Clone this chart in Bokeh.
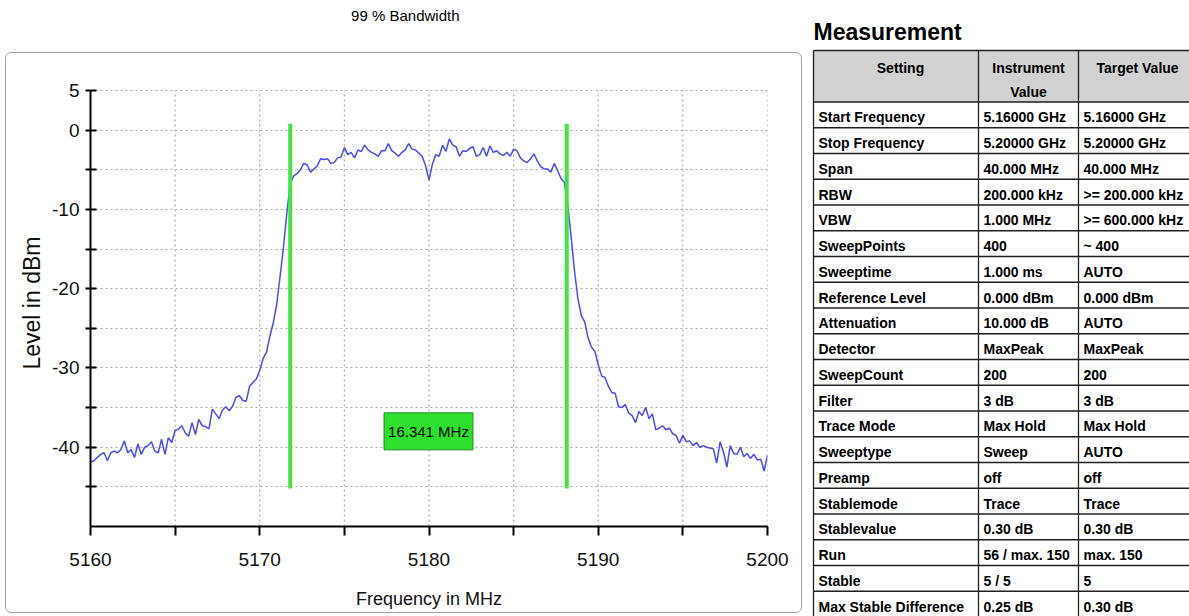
import numpy as np
from bokeh.plotting import figure
from bokeh.models import Range1d, FixedTicker, Label, Title, InlineStyleSheet
from bokeh.layouts import row
from bokeh.core.properties import value
from bokeh.embed import file_html
from bokeh.resources import INLINE

# ---------------- data ----------------
start_mhz = 5160.0
stop_mhz = 5200.0
level_dbm = [
    -41.9, -41.7, -41.3, -40.9, -40.7, -41.7, -40.7, -40.5, -40.7, -40.3,
    -39.2, -40.7, -40.3, -41.3, -39.6, -40.9, -40.0, -39.8, -39.3, -40.5,
    -40.7, -39.0, -40.9, -38.8, -39.4, -37.9, -37.7, -37.3, -38.2, -38.6,
    -36.9, -38.4, -36.5, -37.3, -37.4, -37.7, -35.2, -35.8, -36.4, -35.3,
    -34.9, -35.4, -34.8, -33.7, -33.5, -34.1, -34.2, -32.3, -31.8, -31.4,
    -30.3, -28.8, -28.0, -26.0, -24.3, -22.0, -18.5, -14.8, -10.5, -6.8,
    -5.8, -5.5, -5.0, -4.2, -4.4, -5.3, -4.9, -4.5, -3.6, -3.7,
    -3.6, -4.2, -4.1, -3.5, -3.4, -2.2, -3.1, -2.8, -3.5, -2.5,
    -2.7, -1.9, -2.5, -2.8, -3.0, -3.3, -2.6, -2.6, -1.7, -2.6,
    -2.9, -3.3, -2.8, -2.5, -1.7, -2.4, -2.5, -2.9, -3.3, -4.5,
    -6.3, -4.3, -3.1, -3.3, -1.9, -2.7, -1.1, -1.9, -2.1, -3.3,
    -2.6, -2.7, -2.3, -2.1, -3.3, -3.1, -2.2, -3.3, -2.0, -2.8,
    -2.6, -3.0, -3.2, -2.8, -3.3, -2.4, -2.6, -3.5, -3.9, -4.1,
    -3.6, -3.0, -3.9, -4.6, -4.9, -4.9, -5.3, -4.2, -5.1, -6.1,
    -6.6, -9.5, -13.5, -17.8, -21.3, -23.4, -24.2, -26.2, -27.4, -27.9,
    -29.6, -31.0, -31.2, -32.3, -33.1, -33.2, -34.9, -35.0, -34.6, -35.7,
    -36.0, -36.9, -35.5, -36.0, -35.0, -36.4, -35.8, -37.8, -37.6, -37.3,
    -37.8, -37.6, -38.3, -38.5, -39.5, -38.5, -39.3, -39.2, -39.8, -39.4,
    -40.0, -39.8, -40.0, -40.1, -40.2, -42.0, -39.3, -40.6, -42.5, -39.8,
    -40.8, -40.9, -40.0, -41.2, -40.8, -41.4, -40.9, -41.6, -41.5, -43.0,
    -41.0,
]
obw_left_mhz = 5171.8
obw_right_mhz = 5188.14
obw_text = "16.341 MHz"
marker_top_dbm = 0.8
marker_bottom_dbm = -45.2

x_ticks = [5160, 5165, 5170, 5175, 5180, 5185, 5190, 5195, 5200]
x_labeled = [5160, 5170, 5180, 5190, 5200]
y_ticks = [5, 0, -5, -10, -15, -20, -25, -30, -35, -40, -45]
y_labeled = [5, 0, -10, -20, -30, -40]
y_min, y_max = -50, 5

chart_title = "99 % Bandwidth"
x_title = "Frequency in MHz"
y_title = "Level in dBm"

table_title = "Measurement"
header = ["Setting", "Instrument\nValue", "Target Value"]
settings = ["Start Frequency", "Stop Frequency", "Span", "RBW", "VBW", "SweepPoints",
            "Sweeptime", "Reference Level", "Attenuation", "Detector", "SweepCount",
            "Filter", "Trace Mode", "Sweeptype", "Preamp", "Stablemode", "Stablevalue",
            "Run", "Stable", "Max Stable Difference"]
instrument_values = ["5.16000 GHz", "5.20000 GHz", "40.000 MHz", "200.000 kHz", "1.000 MHz",
                     "400", "1.000 ms", "0.000 dBm", "10.000 dB", "MaxPeak", "200", "3 dB",
                     "Max Hold", "Sweep", "off", "Trace", "0.30 dB", "56 / max. 150", "5 / 5",
                     "0.25 dB"]
target_values = ["5.16000 GHz", "5.20000 GHz", "40.000 MHz", ">= 200.000 kHz", ">= 600.000 kHz",
                 "~ 400", "AUTO", "0.000 dBm", "AUTO", "MaxPeak", "200", "3 dB", "Max Hold",
                 "AUTO", "off", "Trace", "0.30 dB", "max. 150", "5", "0.30 dB"]

# ---------------- styles ----------------
SANS = "Liberation Sans, Arial"
TRACE = "#4b4bf5"
GREEN = "#40e640"
GRID = "#a8a8a8"

freqs = np.linspace(start_mhz, stop_mhz, len(level_dbm))

# ---------------- chart ----------------
# frame reaches the top of the canvas so the title can sit inside it; the
# scale is kept at 5 dB -> 90 px from the top.
p = figure(width=805, height=616, title=None,
           x_range=Range1d(start_mhz, stop_mhz), y_range=Range1d(y_min, y_max + 90 / 7.93),
           output_backend="svg", toolbar_location=None,
           min_border_left=90, min_border_right=38, min_border_top=0, min_border_bottom=90)
p.frame_align = False
p.outline_line_color = None
p.background_fill_color = "white"
p.border_fill_color = "white"

# rounded grey panel frame around the chart area
p.stylesheets = [InlineStyleSheet(css=(
    ":host{position:relative;}"
    ":host::after{content:'';position:absolute;left:5px;top:52px;width:797px;height:561px;"
    "border:1.5px solid #a0a0a0;border-radius:6px;box-sizing:border-box;pointer-events:none;}"
))]

for ax in (p.xaxis[0], p.yaxis[0]):
    ax.axis_line_width = 2
    ax.axis_line_color = "black"
    ax.major_tick_line_width = 2
    ax.major_tick_line_color = "black"
    ax.minor_tick_line_color = None
    ax.major_label_text_font = SANS
    ax.major_label_text_font_size = "19px"
    ax.major_label_text_color = "#111111"
    ax.axis_label_text_font = SANS
    ax.axis_label_text_font_style = "normal"
    ax.axis_label_text_color = "#111111"

p.xaxis.ticker = FixedTicker(ticks=x_ticks)
p.xaxis.major_label_overrides = {t: ("" if t not in x_labeled else str(t)) for t in x_ticks}
p.xaxis.major_tick_in = 0
p.xaxis.major_tick_out = 9
p.xaxis.major_label_standoff = 17
p.xaxis.axis_label = x_title
p.xaxis.axis_label_text_font_size = "18px"
p.xaxis.axis_label_standoff = 20

p.yaxis.ticker = FixedTicker(ticks=y_ticks)
p.yaxis.bounds = (y_min, y_max)
p.yaxis.major_label_overrides = {t: ("" if t not in y_labeled else str(t)) for t in y_ticks}
p.yaxis.major_tick_in = 6
p.yaxis.major_tick_out = 5
p.yaxis.major_label_standoff = 6

# y-axis title, placed along the tick span (offset measured up from the frame bottom)
p.add_layout(Title(text=y_title, align="left", offset=157, text_font=SANS,
                   text_font_size="23px", text_font_style="normal", text_color="#111111"),
             "left")

# horizontal grid from the axis ticker; vertical grid limited to the plotting area
p.xgrid.visible = False
p.ygrid.ticker = FixedTicker(ticks=y_ticks)
p.ygrid.grid_line_color = GRID
p.ygrid.grid_line_dash = "2 3"
p.ygrid.grid_line_width = 1.2
vgrid_x = x_ticks[1:]
p.segment(x0=vgrid_x, y0=[y_min] * len(vgrid_x), x1=vgrid_x, y1=[y_max] * len(vgrid_x),
          line_color=GRID, line_dash="2 3", line_width=1.2)

p.line(freqs, level_dbm, line_color=TRACE, line_width=1.5)
p.segment(x0=[obw_left_mhz, obw_right_mhz], y0=[marker_bottom_dbm] * 2,
          x1=[obw_left_mhz, obw_right_mhz], y1=[marker_top_dbm] * 2,
          line_color=GREEN, line_width=4)

# OBW readout box (padding: left, right, top, bottom)
p.add_layout(Label(x=(obw_left_mhz + obw_right_mhz) / 2, y=-38.0, text=obw_text,
                   text_align="center", text_baseline="middle",
                   text_font=SANS, text_font_size="15px", text_color="black",
                   background_fill_color="#2ee02e", border_line_color="#1d8a1d",
                   border_line_width=1, padding=(4, 4, 10, 10)))

# chart title
p.add_layout(Label(x=5178.6, y=14.46, text=chart_title, text_align="center",
                   text_baseline="middle", text_font=SANS, text_font_size="15px",
                   text_color="black"))

# ---------------- table ----------------
n = len(settings)
t = figure(width=384, height=616, x_range=Range1d(0, 384), y_range=Range1d(21.98, -1.942),
           output_backend="svg", toolbar_location=None, x_axis_location=None,
           y_axis_location=None, min_border=0)
t.frame_align = False
t.outline_line_color = None
t.grid.visible = False
t.border_fill_color = "white"
t.background_fill_color = "white"

t.quad(left=[8], right=[390], top=[0], bottom=[2], fill_color="#d2d2d2", line_color=None)
h_lines = [0, 2] + [3 + k for k in range(n)]
t.segment(x0=[8] * len(h_lines), y0=h_lines, x1=[390] * len(h_lines), y1=h_lines,
          line_color="#202020", line_width=1.3)
t.segment(x0=[8, 173, 273], y0=[0, 0, 0], x1=[8, 173, 273], y1=[2 + n] * 3,
          line_color="#202020", line_width=1.3)

row_y = [2 + k + 0.6 for k in range(n)]
txt_kw = dict(text_font=value(SANS), text_font_size="14px", text_font_style="bold",
              text_color="black", text_baseline="middle", text_align="left")
t.text(x=[13] * n, y=row_y, text=settings, **txt_kw)
t.text(x=[178] * n, y=row_y, text=instrument_values, **txt_kw)
t.text(x=[278] * n, y=row_y, text=target_values, **txt_kw)
t.text(x=[95, 223, 332], y=[0.35] * 3, text=header, text_font=value(SANS),
       text_font_size="14px", text_font_style="bold", text_color="black",
       text_baseline="top", text_align="center", text_line_height=1.5)

t.add_layout(Label(x=8, y=-0.70, text=table_title, text_align="left", text_baseline="middle",
                   text_font=SANS, text_font_size="23px", text_font_style="bold",
                   text_color="black"))

layout = row(p, t)
open("out.html", "w").write(file_html(layout, INLINE))
